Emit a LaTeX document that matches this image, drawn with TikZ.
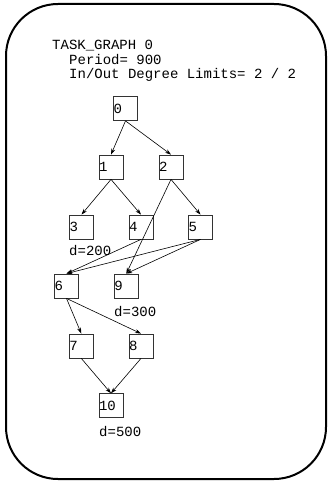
\documentclass[tikz,border=0pt]{standalone}
\usepackage{fontspec}
\setmonofont{Liberation Mono}
\usetikzlibrary{arrows.meta}
\begin{document}
\begin{tikzpicture}[x=1pt,y=-1pt,
  every node/.style={font=\ttfamily\fontsize{14}{16}\selectfont},
  task/.style={draw=black!80, line width=0.8pt, rectangle, minimum width=24pt,
    minimum height=24pt, inner xsep=0pt, inner ysep=0pt, text width=24pt, align=left},
  txt/.style={anchor=base west, inner sep=0pt},
  edge/.style={-{Stealth[length=6pt,width=4pt]}, line width=0.6pt}]
\useasboundingbox (0,0) rectangle (328,481);
% outer frame
\draw[line width=2pt, rounded corners=52pt] (6,4) rectangle (326,479);
% header
\node[txt] (title) at (52,50) {TASK\_GRAPH 0};
\node[txt] (period) at (69,64.3) {Period= 900};
\node[txt] (limits) at (69,78.6) {In/Out Degree Limits= 2 / 2};
% tasks
\node[task] (t0) at (125.5,108.5) {0};
\node[task] (t1) at (111,167) {1};
\node[task] (t2) at (171,167) {2};
\node[task] (t3) at (81.5,227) {3};
\node[task] (t4) at (141,227) {4};
\node[task] (t5) at (200.5,227) {5};
\node[task] (t6) at (66.5,286) {6};
\node[task] (t9) at (126.3,286) {9};
\node[task] (t7) at (81.3,346) {7};
\node[task] (t8) at (141,346) {8};
\node[task] (t10) at (111,405.7) {10};
% deadlines
\node[txt] (d3) at (69,255.5) {d=200};
\node[txt] (d9) at (114,316) {d=300};
\node[txt] (d10) at (99,436) {d=500};
% dependencies
\draw[edge] (t0.south) -- (t1.north);
\draw[edge] (t0.south) -- (t2.north);
\draw[edge] (t1.south) -- (t3.north);
\draw[edge] (t1.south) -- (t4.north);
\draw[edge] (t2.south) -- (t5.north);
\draw[edge] (t2.south) -- (t9.north);
\draw[edge] (t4.south) -- (t6.north);
\draw[edge] (t5.south) -- (t6.north);
\draw[edge] (t5.south) -- (t9.north);
\draw[edge] (t6.south) -- (t7.north);
\draw[edge] (t6.south) -- (t8.north);
\draw[edge] (t7.south) -- (t10.north);
\draw[edge] (t8.south) -- (t10.north);
\end{tikzpicture}
\end{document}
